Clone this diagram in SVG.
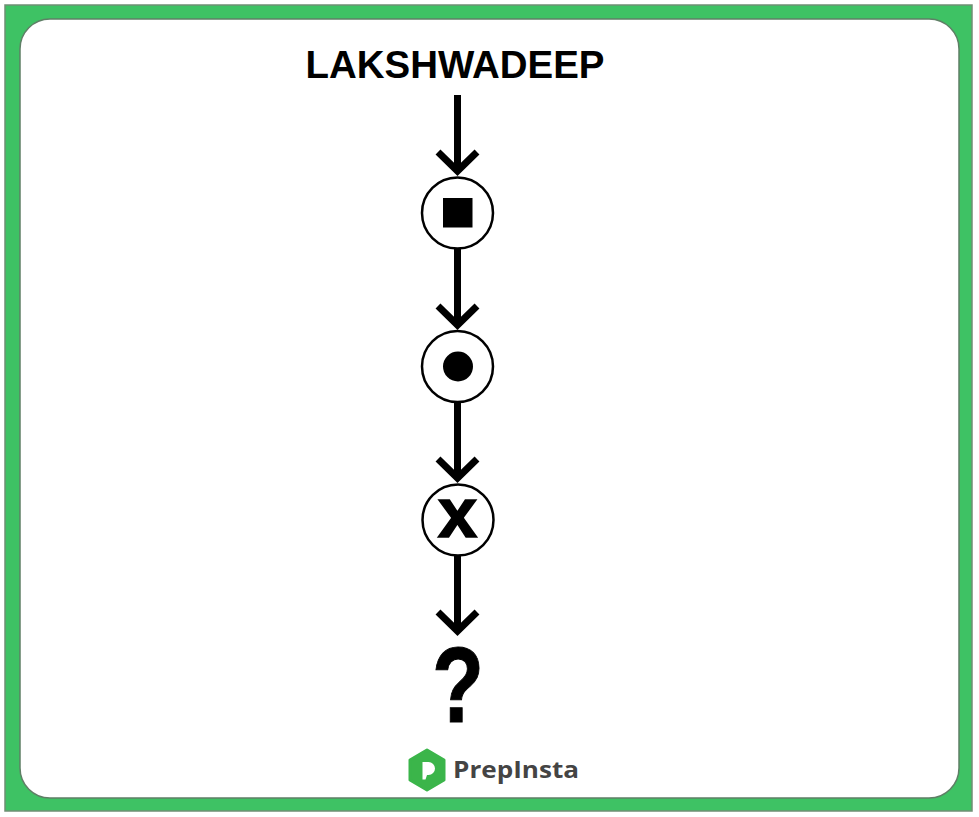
<svg xmlns="http://www.w3.org/2000/svg" width="979" height="817" viewBox="0 0 979 817">
<defs>
<style>
.frame{fill:#3ec264;stroke:#6f8f74;stroke-width:1.5}
.panel{fill:#ffffff;stroke:#5f7f66;stroke-width:1.5}
.ring{fill:#ffffff;stroke:#000;stroke-width:2.5}
.conn{stroke:#000;stroke-width:7;fill:none;stroke-linecap:butt}
.head{stroke:#000;stroke-width:7;fill:none;stroke-linejoin:miter}
.lbl{font-family:"Liberation Sans",Arial,sans-serif;fill:#000}
</style>
</defs>
<rect class="frame" x="5" y="5" width="967" height="806"/>
<rect class="panel" x="20" y="19" width="939" height="779" rx="30" ry="30"/>

<g id="title">
<text class="lbl" x="305.5" y="77.5" font-size="39.5" font-weight="bold" textLength="299" lengthAdjust="spacingAndGlyphs">LAKSHWADEEP</text>
</g>

<g id="connectors">
<line class="conn" x1="457.5" y1="95" x2="457.5" y2="170"/>
<polyline class="head" points="438,152 457.5,171 477,152"/>
<line class="conn" x1="457.5" y1="249" x2="457.5" y2="324"/>
<polyline class="head" points="438,306 457.5,325 477,306"/>
<line class="conn" x1="457.5" y1="403" x2="457.5" y2="477"/>
<polyline class="head" points="438,459 457.5,478 477,459"/>
<line class="conn" x1="457.5" y1="556" x2="457.5" y2="630"/>
<polyline class="head" points="438,612 457.5,631 477,612"/>
</g>

<g id="node-square">
<circle class="ring" cx="457.5" cy="213" r="35.5"/>
<rect x="443" y="198" width="29.5" height="29.5" fill="#000"/>
</g>

<g id="node-dot">
<circle class="ring" cx="457.5" cy="366.5" r="35.5"/>
<circle cx="458" cy="366.5" r="15" fill="#000"/>
</g>

<g id="node-x">
<circle class="ring" cx="458" cy="520" r="35.5"/>
<text class="lbl" x="457.5" y="537" font-size="71" font-weight="bold" stroke="#000" stroke-width="1.5" text-anchor="middle">x</text>
</g>

<g id="node-question">
<text class="lbl" x="458" y="722" font-size="108" font-weight="bold" stroke="#000" stroke-width="1" text-anchor="middle" textLength="52" lengthAdjust="spacingAndGlyphs">?</text>
</g>

<g id="logo">
<path d="M427,750 L444,760 L444,780 L427,790 L410,780 L410,760 Z" fill="#3bb54a" stroke="#3bb54a" stroke-width="3" stroke-linejoin="round"/>
<path d="M422.5,762 h6 a6.5,6.5 0 0 1 0,13 h-1.5 l-1.5,4.5 h-3 Z" fill="#ffffff"/>
<text x="453" y="778" font-family="'Open Sans','Liberation Sans',sans-serif" font-weight="bold" font-size="23" fill="#444444" textLength="126" lengthAdjust="spacingAndGlyphs">PrepInsta</text>
</g>
</svg>
